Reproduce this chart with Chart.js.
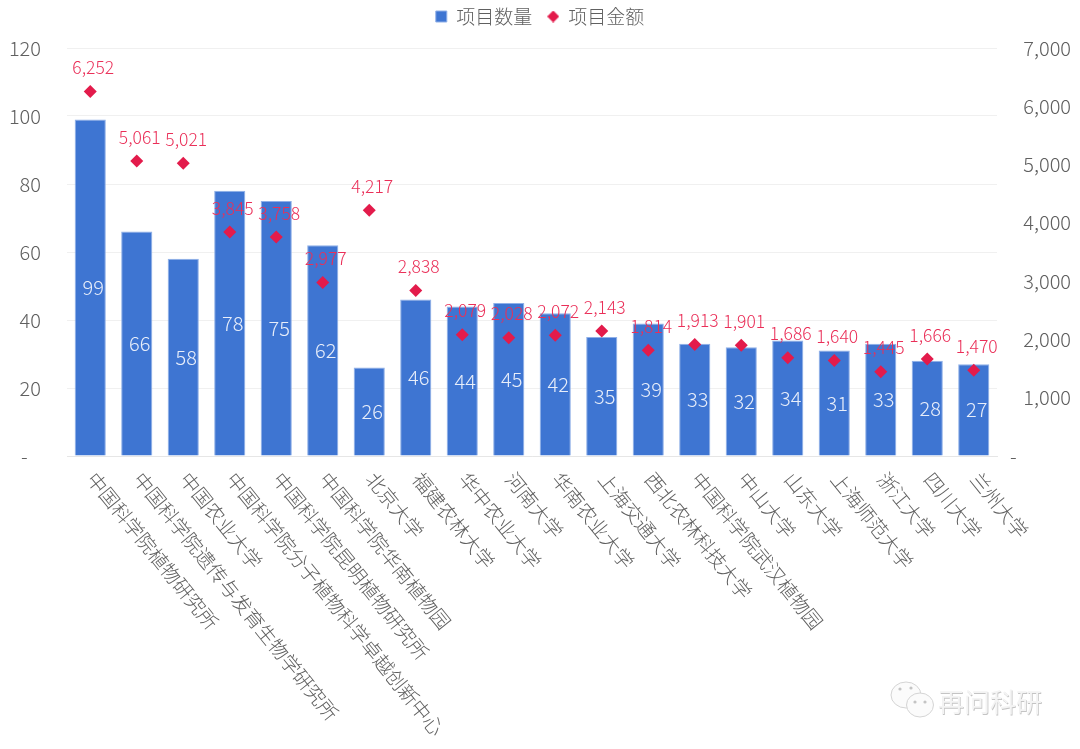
<!DOCTYPE html>
<html>
<head>
<meta charset="utf-8">
<style>
    body { margin: 0; background: #ffffff; }
    canvas { display: block; }
</style>
<script src="https://cdn.jsdelivr.net/npm/chart.js@4/dist/chart.umd.min.js"></script>
</head>
<body>
<canvas id="projectChart" width="1080" height="749"></canvas>
<script>
const categories = ['中国科学院植物研究所', '中国科学院遗传与发育生物学研究所', '中国农业大学', '中国科学院分子植物科学卓越创新中心', '中国科学院昆明植物研究所', '中国科学院华南植物园', '北京大学', '福建农林大学', '华中农业大学', '河南大学', '华南农业大学', '上海交通大学', '西北农林科技大学', '中国科学院武汉植物园', '中山大学', '山东大学', '上海师范大学', '浙江大学', '四川大学', '兰州大学'];
const projectCounts = [99, 66, 58, 78, 75, 62, 26, 46, 44, 45, 42, 35, 39, 33, 32, 34, 31, 33, 28, 27];
const projectAmounts = [6252, 5061, 5021, 3845, 3758, 2977, 4217, 2838, 2079, 2028, 2072, 2143, 1814, 1913, 1901, 1686, 1640, 1445, 1666, 1470];

const FONT = '"Noto Sans CJK JP", "Noto Sans CJK SC", sans-serif';
const GREY = '#606060';
const RED = '#e31b4b';
const AMOUNT_SET = 0;
const COUNT_SET = 1;

// small diamond for the legend, the built in one scales too big
const legendDiamond = document.createElement('canvas');
legendDiamond.width = 12;
legendDiamond.height = 12;
const diamondCtx = legendDiamond.getContext('2d');
diamondCtx.fillStyle = RED;
diamondCtx.beginPath();
diamondCtx.moveTo(6, 0);
diamondCtx.lineTo(12, 6);
diamondCtx.lineTo(6, 12);
diamondCtx.lineTo(0, 6);
diamondCtx.closePath();
diamondCtx.fill();

// legend sits close to the top, the plot starts further down
const legendGapPlugin = {
    id: 'legendGapPlugin',
    beforeInit(chart) {
        const fit = chart.legend.fit;
        chart.legend.fit = function() {
            fit.call(this);
            this.height += 12;
        };
    }
};

// value labels for both series and the slanted category names
const labelPlugin = {
    id: 'labelPlugin',
    afterDatasetsDraw(chart) {
        const ctx = chart.ctx;
        ctx.save();
        ctx.textAlign = 'center';
        ctx.textBaseline = 'middle';
        ctx.font = '300 20px ' + FONT;

        ctx.fillStyle = '#e8eefa';
        chart.getDatasetMeta(COUNT_SET).data.forEach((bar, i) => {
            ctx.fillText(String(projectCounts[i]), bar.x + 3, (bar.y + bar.base) / 2);
        });

        ctx.font = '300 17.5px ' + FONT;
        ctx.fillStyle = '#ea2f58';
        chart.getDatasetMeta(AMOUNT_SET).data.forEach((point, i) => {
            ctx.fillText(projectAmounts[i].toLocaleString('en-US'), point.x + 3, point.y - 24);
        });
        ctx.restore();

        // category names, cut off at the bottom like in the original
        const xScale = chart.scales.x;
        ctx.save();
        ctx.beginPath();
        ctx.rect(0, 0, chart.width, 737);
        ctx.clip();
        ctx.font = '300 19.5px ' + FONT;
        ctx.fillStyle = GREY;
        ctx.textAlign = 'left';
        ctx.textBaseline = 'middle';
        categories.forEach((name, i) => {
            ctx.save();
            ctx.translate(xScale.getPixelForTick(i) + 1, 475);
            ctx.rotate(51 * Math.PI / 180);
            ctx.fillText(name, 0, 0);
            ctx.restore();
        });
        ctx.restore();

        // watermark
        ctx.save();
        ctx.font = '400 26px ' + FONT;
        ctx.textAlign = 'left';
        ctx.textBaseline = 'middle';
        ctx.fillStyle = '#c4c4c4';
        ctx.fillText('再问科研', 938.7, 702.7);
        ctx.fillStyle = '#f4f4f4';
        ctx.fillText('再问科研', 938, 702);
        ctx.strokeStyle = '#d4d4d4';
        ctx.fillStyle = '#fbfbfb';
        ctx.lineWidth = 1;
        [[906, 695, 15, 13], [920, 705, 13.5, 12]].forEach(b => {
            ctx.beginPath();
            ctx.ellipse(b[0], b[1], b[2], b[3], 0, 0, Math.PI * 2);
            ctx.fill();
            ctx.stroke();
        });
        ctx.fillStyle = '#c4c4c4';
        [[900, 689], [911, 688], [915, 702], [925, 702]].forEach(d => {
            ctx.beginPath();
            ctx.arc(d[0], d[1], 1.6, 0, Math.PI * 2);
            ctx.fill();
        });
        ctx.restore();
    }
};

new Chart(document.getElementById('projectChart').getContext('2d'), {
    type: 'bar',
    data: {
        labels: categories,
        datasets: [{
            label: '项目金额',
            type: 'line',
            data: projectAmounts,
            yAxisID: 'y2',
            showLine: false,
            order: 0,
            pointStyle: 'rectRot',
            pointRadius: 6.5,
            pointHoverRadius: 6.5,
            backgroundColor: RED,
            borderColor: RED,
            borderWidth: 0
        }, {
            label: '项目数量',
            data: projectCounts,
            yAxisID: 'y',
            order: 1,
            pointStyle: 'rect',
            backgroundColor: '#3e75d2',
            borderColor: '#8fb0e8',
            borderWidth: 1,
            barPercentage: 0.67,
            categoryPercentage: 1
        }]
    },
    options: {
        responsive: false,
        animation: false,
        devicePixelRatio: 1,
        layout: { padding: { top: 0, bottom: 285 } },
        scales: {
            x: {
                grid: { display: false },
                border: { color: '#e6e6e6' },
                ticks: { display: false }
            },
            y: {
                position: 'left',
                min: 0,
                max: 120,
                afterFit: function(scale) { scale.width = 67; },
                grid: { color: '#f0f0f0', drawTicks: false },
                border: { display: false },
                ticks: {
                    stepSize: 20,
                    padding: 26,
                    color: GREY,
                    font: { family: FONT, size: 20, weight: '300' },
                    callback: function(value) { return value === 0 ? '-   ' : value; }
                }
            },
            y2: {
                position: 'right',
                min: 0,
                max: 7000,
                afterFit: function(scale) { scale.width = 83; },
                grid: { display: false, drawTicks: false },
                border: { display: false },
                ticks: {
                    stepSize: 1000,
                    padding: 13,
                    color: GREY,
                    font: { family: FONT, size: 20, weight: '300' },
                    callback: function(value) { return value === 0 ? '-' : '   ' + value.toLocaleString('en-US'); }
                }
            }
        },
        plugins: {
            tooltip: { enabled: false },
            legend: {
                position: 'top',
                labels: {
                    usePointStyle: true,
                    pointStyleWidth: 11,
                    boxHeight: 11,
                    padding: 7,
                    color: GREY,
                    font: { family: FONT, size: 19, weight: '300' },
                    sort: function(a, b) { return b.datasetIndex - a.datasetIndex; },
                    generateLabels: function(chart) {
                        const items = Chart.defaults.plugins.legend.labels.generateLabels(chart);
                        items.forEach(item => {
                            if (item.datasetIndex === AMOUNT_SET) {
                                item.pointStyle = legendDiamond;
                            } else {
                                item.text += '  ';
                            }
                        });
                        return items;
                    }
                }
            }
        }
    },
    plugins: [legendGapPlugin, labelPlugin]
});
</script>
</body>
</html>
